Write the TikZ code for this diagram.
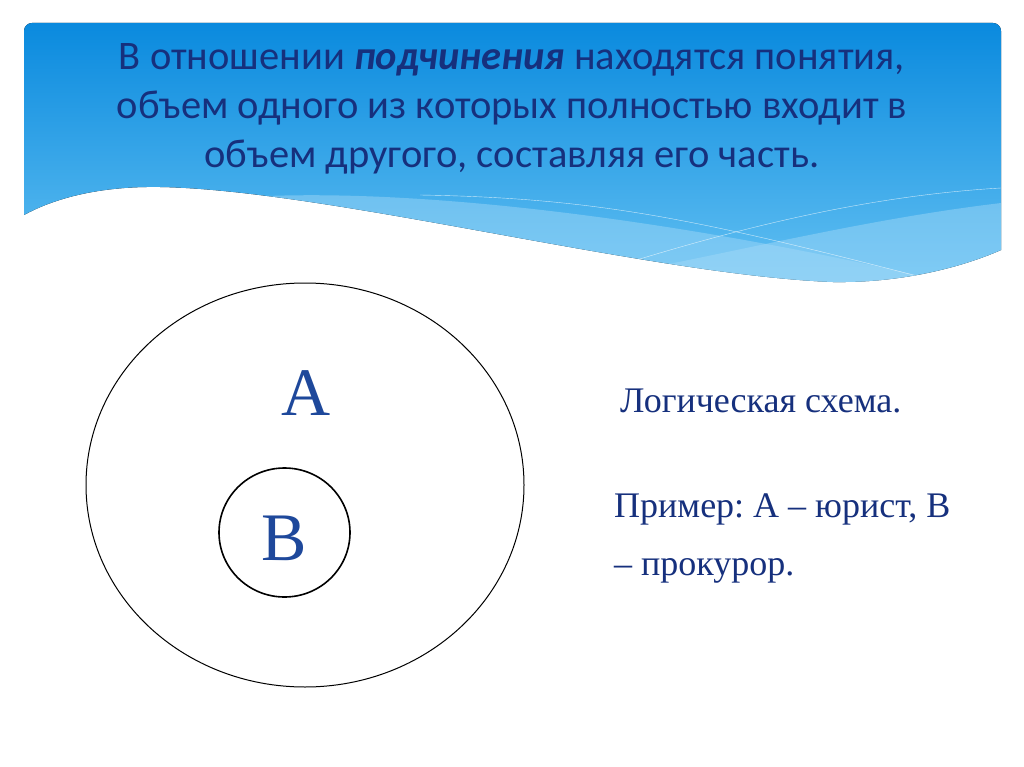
\documentclass[tikz,border=0pt]{standalone}
\usepackage{fontspec}
\setmainfont{Liberation Serif}
\newfontfamily\headfont{Carlito}
\usetikzlibrary{shapes.geometric}
\definecolor{headtop}{RGB}{10,138,222}
\definecolor{headbot}{RGB}{98,192,242}
\definecolor{headband}{RGB}{165,218,248}
\definecolor{titleblue}{RGB}{22,48,125}
\definecolor{letterblue}{RGB}{30,72,155}
\frenchspacing
% outline of the blue header, wave included
\newcommand{\headoutline}{(24,215) -- (24,31) to[out=90,in=180] (32,23) -- (993,23)
    to[out=0,in=90] (1001,31) -- (1001,250)
    .. controls (960,268) and (900,283) .. (833,282)
    .. controls (650,275) and (330,190) .. (160,187)
    .. controls (100,186) and (55,198) .. (24,215) -- cycle}

\begin{document}
\begin{tikzpicture}[
  x=1pt,y=-1pt,
  title/.style={font=\headfont\fontsize{40.5}{49}\selectfont,text=titleblue,align=center},
  letter/.style={font=\fontsize{68}{68}\selectfont,text=letterblue},
  note/.style={font=\fontsize{36}{58}\selectfont,text=titleblue,anchor=base west,inner sep=0pt},
  ring/.style={draw,ellipse,inner sep=0pt},
  band/.style={fill=headband,opacity=.45}]

  \useasboundingbox[fill=white] (0,0) rectangle (1024,767);

  % Header with the wave at its foot
  \fill[top color=headtop,bottom color=headbot] \headoutline;
  \begin{scope}
    \clip \headoutline;
    \fill[band] (230,198) .. controls (420,184) and (700,225) .. (920,276)
      -- (1010,330) -- (230,330) -- cycle;
    \fill[band] (560,284) .. controls (700,262) and (850,220) .. (1010,202)
      -- (1010,330) -- (560,330) -- cycle;
    \draw[white,opacity=.7,thin] (420,195) .. controls (600,198) and (700,220) .. (925,278);
    \draw[white,opacity=.7,thin] (630,262) .. controls (760,222) and (880,195) .. (1001,188);
  \end{scope}

  \node[title] (head) at (512,109)
    {В отношении \textbf{\itshape подчинения} находятся понятия,\\
     объем одного из которых полностью входит в\\
     объем другого, составляя его часть.};

  % Euler circles
  \node[ring,line width=1pt,minimum width=438,minimum height=404] (setA) at (305,485) {};
  \node[ring,line width=1.6pt,minimum width=131,minimum height=129] (setB) at (284.5,532.5) {};
  \node[letter] (labA) at (306,393) {А};
  \node[letter] (labB) at (284,538) {В};

  % Right-hand notes
  \node[note] (scheme) at (620,412) {Логическая схема.};
  \node[note] (example) at (614,517) {Пример: А -- юрист, В};
  \node[note] (example2) at (614,575) {-- прокурор.};
\end{tikzpicture}
\end{document}
